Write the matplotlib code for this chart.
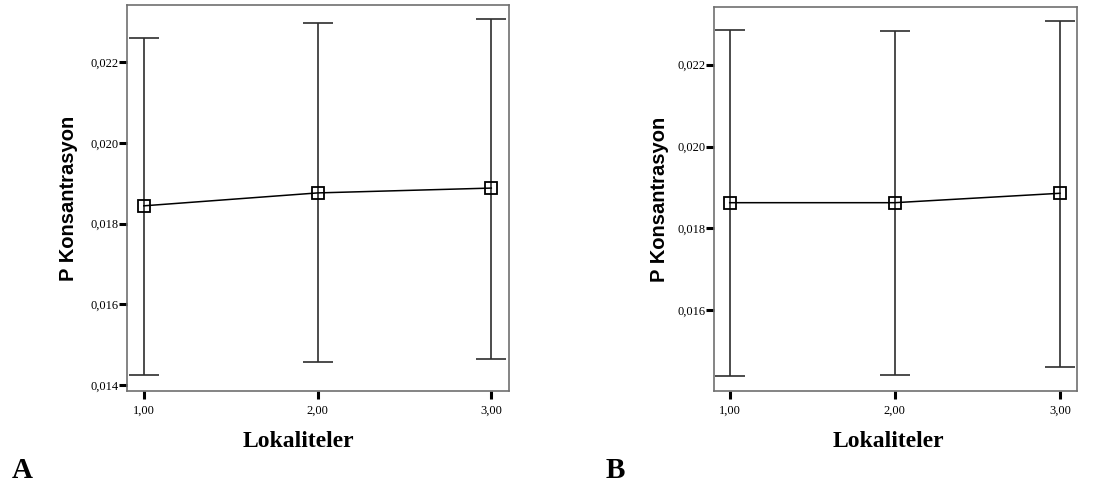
import numpy as np
import matplotlib
matplotlib.use('Agg')
import matplotlib.pyplot as plt
import matplotlib.transforms as mtransforms

# Lokaliteler (x) and P konsantrasyon means with error bar ends
lokalite = [1, 2, 3]
x_ticklabels = ['1,00', '2,00', '3,00']

a_mean = [0.01844, 0.01876, 0.01888]
a_low = [0.01425, 0.01458, 0.01464]
a_high = [0.02260, 0.02297, 0.02307]

b_mean = [0.01863, 0.01863, 0.01886]
b_low = [0.01439, 0.01442, 0.01461]
b_high = [0.02285, 0.02283, 0.02306]

a_yticks = [0.014, 0.016, 0.018, 0.020, 0.022]
b_yticks = [0.016, 0.018, 0.020, 0.022]


def fmt_tick(v):
    return ('%.3f' % v).replace('.', ',')


def draw_panel(fig, ax, mean, low, high, yticks, ylim, xlabel_x, ylabel_x):
    mean = np.array(mean)
    yerr = [mean - np.array(low), np.array(high) - mean]
    # error bars
    ax.errorbar(lokalite, mean, yerr=yerr, fmt='none', ecolor='#2e2e2e',
                elinewidth=1.2, capsize=11, capthick=1.2, zorder=2)
    # means
    ax.plot(lokalite, mean, color='black', linewidth=1.1, marker='s',
            markersize=9, markerfacecolor='none', markeredgecolor='black',
            markeredgewidth=1.3, zorder=3)

    ax.set_xlim(0.903, 3.102)
    ax.set_ylim(*ylim)
    ax.set_xticks(lokalite)
    ax.set_xticklabels(x_ticklabels)
    ax.set_yticks(yticks)
    ax.set_yticklabels([fmt_tick(v) for v in yticks])

    for lab in ax.get_xticklabels() + ax.get_yticklabels():
        lab.set_fontfamily('Liberation Serif')
        lab.set_fontsize(9)
    # y tick labels sit a little below their ticks in the original
    shift = mtransforms.ScaledTranslation(0, -3 / 100, fig.dpi_scale_trans)
    for lab in ax.get_yticklabels():
        lab.set_transform(lab.get_transform() + shift)

    ax.tick_params(axis='both', direction='out', length=6, width=2.2,
                   color='black')
    ax.tick_params(axis='y', pad=0)
    ax.tick_params(axis='x', pad=4)
    for sp in ax.spines.values():
        sp.set_color('#707070')
        sp.set_linewidth(1.2)

    ax.set_ylabel('P Konsantrasyon', fontfamily='Liberation Sans',
                  fontweight='bold', fontsize=14.5)
    ax.yaxis.set_label_coords(ylabel_x, 0.5)
    ax.set_xlabel('Lokaliteler', fontfamily='Liberation Serif',
                  fontweight='bold', fontsize=17)
    ax.xaxis.set_label_coords(xlabel_x, -0.13)
    ax.xaxis.label.set_va('center')


fig = plt.figure(figsize=(11.07, 4.88), dpi=100)
ax_a = fig.add_axes([0.1147, 0.1988, 0.3451, 0.791])
ax_b = fig.add_axes([0.6447, 0.1982, 0.3280, 0.788])

draw_panel(fig, ax_a, a_mean, a_low, a_high, a_yticks, (0.013851, 0.023418),
           0.449, -0.127)
draw_panel(fig, ax_b, b_mean, b_low, b_high, b_yticks, (0.014024, 0.023416),
           0.48, -0.124)

fig.text(22 / 1107, 1 - 470 / 488, 'A', fontfamily='Liberation Serif',
         fontweight='bold', fontsize=21, ha='center', va='center')
fig.text(615 / 1107, 1 - 470 / 488, 'B', fontfamily='Liberation Serif',
         fontweight='bold', fontsize=21, ha='center', va='center')

fig.savefig('out.png', dpi=100)
